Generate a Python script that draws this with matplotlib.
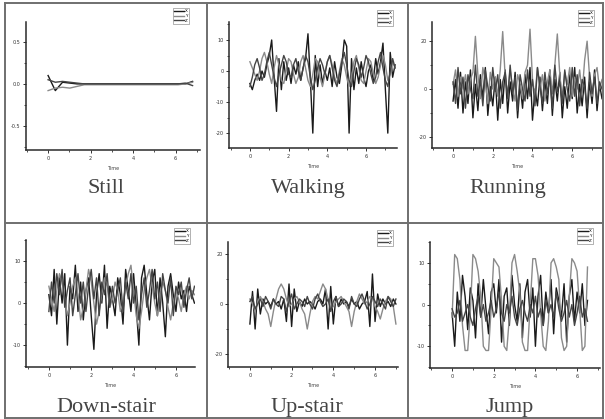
import numpy as np
import matplotlib
matplotlib.use("Agg")
import matplotlib.pyplot as plt
from matplotlib.lines import Line2D
from matplotlib.ticker import MultipleLocator

labels = ["Still", "Walking", "Running", "Down-stair", "Up-stair", "Jump"]
legend_labels = ["X", "Y", "Z"]
time_ticks = [0, 2, 4, 6]

still_dt = 0.34
still_x = [0.1, -0.08, 0.02, 0.01, 0.0, 0.0, 0.0, 0.0, 0.0, 0.0, 0.0,
           0.0, 0.0, 0.0, 0.0, 0.0, 0.0, 0.0, 0.0, 0.0, 0.03]
still_y = [-0.08, -0.05, -0.04, -0.05, -0.03, -0.01, -0.01, -0.01, -0.01, -0.01, -0.01,
           -0.01, -0.01, -0.01, -0.01, -0.01, -0.01, -0.01, -0.01, 0.0, 0.02]
still_z = [0.05, 0.02, 0.03, 0.02, 0.01, 0.0, 0.0, 0.0, 0.0, 0.0, 0.0,
           0.0, 0.0, 0.0, 0.0, 0.0, 0.0, 0.0, 0.0, 0.01, -0.02]

walk_dt = 0.125
walk_x = [-4, -6, -3, -1, -3, 0, -2, 2, 5, 10, -2, -13, 4,
          -6, 3, -3, 1, -4, 2, -1, 3, -3, 1, 4, 12, -3, -20, 5,
          -5, 2, -4, 0, -3, 1, -5, 3, -2, -4, 2, 10, 8, -20, 4, -6,
          1, -4, 3, -2, -5, 0, 2, -3, 4, -1, 3, 9, -6, -20, 6, -2, 2]
walk_y = [3, 1, -1, -3, 0, 4, 6, 3, -1, -4, 1, 5, 2, -3, -4, 0, 4, 3, -1, -4,
          -2, 3, 5, 1, -3, -5, -1, 4, 3, -2, -5, -1, 3, 5, 2, -2, -4, 0, 4, 2,
          -2, -5, -2, 3, 5, 1, -3, -4, 0, 4, 3, -1, -4, -2, 2, 5, 2, -3, -1, 3, 1]
walk_z = [-5, -2, 2, 4, 1, -3, -1, 3, 6, 2, -2, -5, -1, 2, 5, 3, -1, -2, 2, 4,
          0, -3, 1, 5, 3, -2, -6, -3, 1, 4, 2, -1, 3, 5, 1, -3, -5, -1, 3, 6,
          2, -3, -5, 0, 4, 2, -2, 1, 5, 3, -1, -4, -2, 3, 6, 1, -3, -5, 0, 4, 1]

run_dt = 0.125
run_x = [-5, 4, -8, 7, -10, 3, -6, 8, -12, 2, -9, 6, -4, 9, -11, 1, -7, 5, -13, 4,
         -6, 8, -10, 3, -5, 7, -12, 2, -8, 6, -4, 9, -13, 0, -7, 5, -9, 3, -6, 8,
         -11, 4, -5, 7, -12, 1, -8, 6, -4, 9, -10, 2, -7, 5, -12, 3, -6, 8, -9, 2, -4]
run_y = [2, 8, -3, 5, 0, 6, -2, 4, 7, 22, 6, -4, 9, 3, -6, 7, 0, 5, -3, 8,
         24, 5, -2, 8, 1, -5, 6, 2, -4, 7, 10, 25, 4, -3, 9, 0, 6, -5, 3, 8,
         -2, 10, 23, 6, -4, 7, 2, 9, -3, 5, 0, 8, -2, 12, 20, 5, -3, 6, 9, 0, 4]
run_z = [3, -6, 9, -2, 5, -8, 6, 0, -4, 10, -3, 4, -7, 8, 1, -5, 9, -1, 6, -8,
         3, 7, -4, 10, -2, 5, -9, 6, 0, -5, 8, -3, 4, -7, 9, 1, -6, 7, -2, 5,
         -8, 10, -1, 3, -6, 8, 0, -5, 9, -3, 6, -7, 4, 1, -8, 7, -2, 5, -6, 3, 0]

down_dt = 0.125
down_x = [2, -3, 8, -5, 6, 0, 7, -10, 4, 1, 9, -2, 5, -4, 3, 6, -3, -11, 2, 7,
          0, 9, -6, 4, 1, -3, 6, 2, -5, 8, 3, -2, 7, -1, -10, 6, 9, 2, -4, 5,
          8, -3, 6, 0, -8, 4, 7, 2, -2, 5, 1, 3, -2, 4, 2, 0]
down_y = [4, 1, -2, 3, 7, 5, 1, -3, 0, 4, 6, 2, -4, -1, 3, 8, 5, 0, -5, -2,
          2, 6, 4, -1, 1, 5, 3, -2, 0, 4, 7, 9, 3, -3, -6, -2, 3, 6, 8, 4,
          0, -3, 2, 5, 3, -1, -4, 0, 3, 1, -2, 2, 4, 1, 3, 2]
down_z = [-2, 5, 0, 7, 2, 8, -1, 3, 6, -3, 2, 7, 0, 5, -2, 4, 8, 1, 6, -3,
          5, 2, 7, -1, 4, 0, 3, 6, -2, 5, 1, 7, 0, 4, -4, 2, 6, -1, 3, 8,
          1, 5, -2, 7, 3, 0, 6, -3, 4, 2, 5, -1, 3, 6, 1, 4]

up_dt = 0.125
up_x = [-8, 5, -10, 6, -4, 2, 0, 1, -1, 2, 0, 1, -2, 2, -7, 8, -9, 6, -3, 1,
        -1, 2, 0, 1, 0, -2, 1, 2, 0, 6, -10, 7, -8, 3, -1, 2, 0, 1, -1, 2,
        0, 1, -2, 0, 1, 5, -9, 12, -7, 4, -1, 2, 0, 1, -1, 2, 0]
up_y = [2, 0, -3, 1, 3, 1, -2, -4, -9, -3, 2, 6, 8, 6, 2, -1, 0, 2, 3, 1,
        -2, -4, -10, -4, 1, 3, 2, 5, 8, 6, 2, -2, -1, 1, 2, 3, 1, -1, -3, -9,
        -3, 1, 4, 2, 0, 1, 3, 2, -1, -3, -6, -2, 1, 3, 2, -1, -8]
up_z = [1, 3, -2, 0, 2, -1, 3, 1, -2, 2, 0, -1, 3, 2, -3, 1, 4, -2, 0, 2,
        1, -1, 3, 0, -2, 2, 4, 1, -1, 0, 2, -3, 1, 3, -1, 0, 2, 1, -2, 3,
        0, -1, 2, 4, 1, -2, 0, 3, 1, -1, 2, 0, -2, 3, 1, -1, 2]

jump_dt = 0.125
jump_x = [-2, -10, 3, -4, 7, 2, -6, 4, 1, -8, 5, -3, 6, -1, -7, 3, 5, -2, 6, -9,
          2, 4, -5, 7, 0, -4, 5, -8, 3, 6, -3, 4, -10, 2, 7, -5, 3, -2, 6, -7,
          4, 1, -3, 5, -9, 2, 6, -4, 3, -2, 5, -5, 1]
jump_y = [-3, 12, 11, 6, -5, -11, -11, -2, 12, 11, 8, 2, -10, -11, -11, -1, 11, 10, 9, 1,
          -10, -11, -3, 10, 12, 8, 3, -9, -11, -11, 0, 11, 11, 7, -2, -10, -11, -4, 10, 11,
          9, 6, -8, -11, -10, 2, 11, 10, 8, -1, -11, -10, 9]
jump_z = [-1, -3, -2, 1, -4, -2, 0, -3, -5, -1, 2, -3, 0, -4, -2, 1, -3, -1, 3, -2,
          -4, 0, -2, 2, -3, -5, -1, 1, -2, -4, 0, -2, 2, -3, -1, -5, 1, -2, 0, -3,
          3, -1, -4, -2, 1, -3, 0, -5, -2, 2, -3, -1, -4]

series = [
    (still_dt, still_x, still_y, still_z),
    (walk_dt, walk_x, walk_y, walk_z),
    (run_dt, run_x, run_y, run_z),
    (down_dt, down_x, down_y, down_z),
    (up_dt, up_x, up_y, up_z),
    (jump_dt, jump_x, jump_y, jump_z),
]
y_ticks = [[0.5, 0.0, -0.5], [10, 0, -10, -20], [20, 0, -20],
           [10, 0, -10], [20, 0, -20], [10, 0, -10]]
y_tick_labels = [["0.5", "0.0", "-0.5"], ["10", "0", "-10", "-20"], ["20", "0", "-20"],
                 ["10", "0", "-10"], ["20", "0", "-20"], ["10", "0", "-10"]]

# layout in pixels
W, H = 605, 419
ax_px = [(26, 22, 200, 150), (229, 22, 397, 148), (432, 22, 602, 148),
         (26, 240, 195, 367), (228, 242, 398, 367), (430, 242, 600, 368)]
xlims = [(-1.04, 7.15), (-1.08, 7.6), (-1.06, 7.5),
         (-1.08, 6.9), (-1.05, 7.1), (-1.06, 7.1)]
ylims = [(-0.79, 0.74), (-24.8, 15.8), (-24.6, 28),
         (-15.2, 15), (-25.2, 24.8), (-15.2, 15)]
legend_px = [(189, 8), (393, 10), (594, 10), (190, 228), (393, 230), (593, 228)]
label_px = [(106, 188), (308, 188), (508, 188), (106, 407), (307, 407), (510, 407)]
colors = ["#1a1a1a", "#8a8a8a", "#444444"]

fig = plt.figure(figsize=(W / 100, H / 100), dpi=100)

for i in range(6):
    l, t, r, b = ax_px[i]
    ax = fig.add_axes([l / W, 1 - b / H, (r - l) / W, (b - t) / H])
    dt, sx, sy, sz = series[i]
    tt = np.arange(len(sx)) * dt
    ax.plot(tt, sx, color=colors[0], lw=1.0, label=legend_labels[0])
    ax.plot(tt, sy, color=colors[1], lw=1.0, label=legend_labels[1])
    ax.plot(tt, sz, color=colors[2], lw=1.0, label=legend_labels[2])
    ax.set_xlim(xlims[i])
    ax.set_ylim(ylims[i])
    for s in ["top", "right"]:
        ax.spines[s].set_visible(False)
    for s in ["left", "bottom"]:
        ax.spines[s].set_linewidth(1.1)
        ax.spines[s].set_color("#2a2a2a")
    ax.set_xticks(time_ticks)
    ax.xaxis.set_minor_locator(MultipleLocator(1))
    ax.set_yticks(y_ticks[i])
    ax.set_yticklabels(y_tick_labels[i])
    ax.yaxis.set_minor_locator(MultipleLocator(abs(y_ticks[i][0] - y_ticks[i][1]) / 2))
    ax.tick_params(which="major", length=2.5, width=0.7, labelsize=3.5,
                   pad=1.5, colors="#333333")
    ax.tick_params(which="minor", length=1.5, width=0.6, colors="#333333")
    ax.set_xlabel("Time", fontsize=3.5, labelpad=4, color="#444444")
    ax.patch.set_alpha(0)
    lx, ly = legend_px[i]
    leg = ax.legend(loc="upper right", bbox_to_anchor=(lx / W, 1 - ly / H),
                    bbox_transform=fig.transFigure, fontsize=3, frameon=True,
                    fancybox=False, handlelength=2.2, borderpad=0.3,
                    labelspacing=0.2, handletextpad=0.3, borderaxespad=0)
    leg.get_frame().set_linewidth(0.4)
    leg.get_frame().set_edgecolor("#555555")
    cx, cy = label_px[i]
    fig.text(cx / W, 1 - cy / H, labels[i], ha="center", va="center",
             fontsize=16, family="Liberation Serif", color="#444444")

# panel frame lines
frame = "#6f6f6f"
for x in [5, 207, 408, 603]:
    fig.add_artist(Line2D([x / W, x / W], [1 - 3 / H, 1 - 418 / H],
                          transform=fig.transFigure, color=frame, lw=1.4))
for y in [3, 223, 418]:
    fig.add_artist(Line2D([5 / W, 603 / W], [1 - y / H, 1 - y / H],
                          transform=fig.transFigure, color=frame, lw=1.4))

fig.savefig("out.png", dpi=100)
